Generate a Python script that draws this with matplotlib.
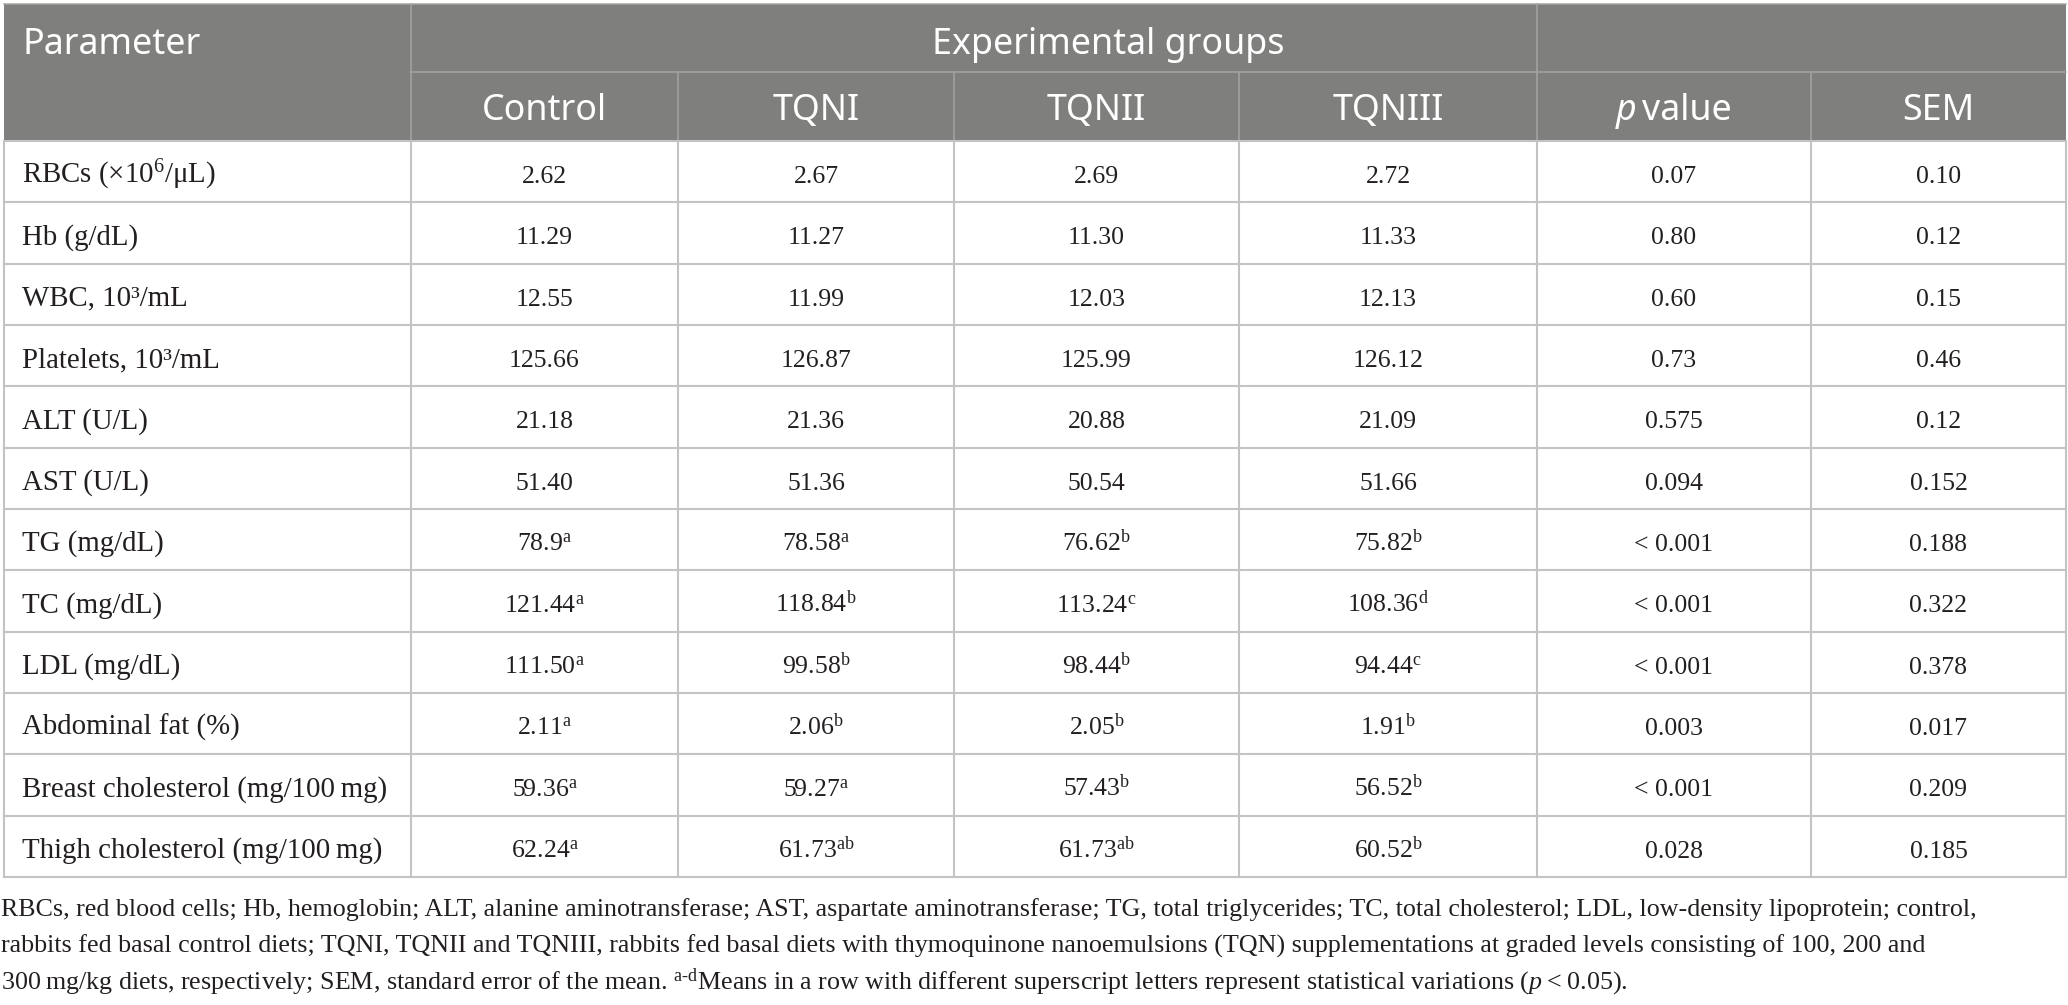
import matplotlib.pyplot as plt
from matplotlib.patches import Rectangle

plt.rcParams['mathtext.fontset'] = 'custom'
plt.rcParams['mathtext.rm'] = 'Liberation Serif'
plt.rcParams['mathtext.it'] = 'Liberation Serif:italic'

# === TABLE DATA ===
parameters = [
    "RBCs (\u00d710$^{6}$/\u03bcL)", "Hb (g/dL)", "WBC, 10\u00b3/mL", "Platelets, 10\u00b3/mL",
    "ALT (U/L)", "AST (U/L)", "TG (mg/dL)", "TC (mg/dL)", "LDL (mg/dL)",
    "Abdominal fat (%)", "Breast cholesterol (mg/100\u2009mg)", "Thigh cholesterol (mg/100\u2009mg)",
]
group_names = ["Control", "TQNI", "TQNII", "TQNIII"]
control = ["2.62", "11.29", "12.55", "125.66", "21.18", "51.40", "78.9", "121.44", "111.50", "2.11", "59.36", "62.24"]
control_sup = ["", "", "", "", "", "", "a", "a", "a", "a", "a", "a"]
tqn1 = ["2.67", "11.27", "11.99", "126.87", "21.36", "51.36", "78.58", "118.84", "99.58", "2.06", "59.27", "61.73"]
tqn1_sup = ["", "", "", "", "", "", "a", "b", "b", "b", "a", "ab"]
tqn2 = ["2.69", "11.30", "12.03", "125.99", "20.88", "50.54", "76.62", "113.24", "98.44", "2.05", "57.43", "61.73"]
tqn2_sup = ["", "", "", "", "", "", "b", "c", "b", "b", "b", "ab"]
tqn3 = ["2.72", "11.33", "12.13", "126.12", "21.09", "51.66", "75.82", "108.36", "94.44", "1.91", "56.52", "60.52"]
tqn3_sup = ["", "", "", "", "", "", "b", "d", "c", "b", "b", "b"]
p_value = ["0.07", "0.80", "0.60", "0.73", "0.575", "0.094", "< 0.001", "< 0.001", "< 0.001", "0.003", "< 0.001", "0.028"]
sem = ["0.10", "0.12", "0.15", "0.46", "0.12", "0.152", "0.188", "0.322", "0.378", "0.017", "0.209", "0.185"]

footnote = [
    "RBCs, red blood cells; Hb, hemoglobin; ALT, alanine aminotransferase; AST, aspartate aminotransferase; "
    "TG, total triglycerides; TC, total cholesterol; LDL, low-density lipoprotein; control,",
    "rabbits fed basal control diets; TQNI, TQNII and TQNIII, rabbits fed basal diets with thymoquinone "
    "nanoemulsions (TQN) supplementations at graded levels consisting of 100, 200 and",
    "300\u2009mg/kg diets, respectively; SEM, standard error of the mean. $^{\\mathrm{a}\\text{-}\\mathrm{d}}$Means "
    "in a row with different superscript letters represent statistical variations ($p$\u2009<\u20090.05).",
]

# === LAYOUT (pixels) ===
W, H = 2068, 1005
col_edges = [4, 411, 678, 954, 1239, 1537, 1811, 2066]
top, mid, head_bot, bot = 4, 72, 141, 877
n_rows = len(parameters)
row_h = (bot - head_bot) / n_rows

head_bg = '#7f807e'
head_line = '#a4a5a3'
body_line = '#c3c3c3'
ink = '#231f20'
serif = ['Liberation Serif', 'DejaVu Serif']
sans = ['Noto Sans', 'DejaVu Sans']
label_fs = 20.8
value_fs = 18.5
foot_fs = 18.7
head_fs = 25.8

fig = plt.figure(figsize=(W / 100, H / 100), dpi=100)
ax = fig.add_axes([0, 0, 1, 1])
ax.set_xlim(0, W)
ax.set_ylim(H, 0)
ax.axis('off')

# header block
ax.add_patch(Rectangle((col_edges[0], top), col_edges[-1] - col_edges[0], head_bot - top,
                       facecolor=head_bg, edgecolor='none'))
hl = dict(color=head_line, lw=1.1)
ax.plot([col_edges[0], col_edges[-1]], [top, top], **hl)
ax.plot([col_edges[1], col_edges[-1]], [mid, mid], **hl)
for x in (col_edges[1], col_edges[5]):
    ax.plot([x, x], [top, head_bot], **hl)
for x in (col_edges[2], col_edges[3], col_edges[4], col_edges[6]):
    ax.plot([x, x], [mid, head_bot], **hl)

# body grid
bl = dict(color=body_line, lw=1.5)
for i in range(n_rows + 1):
    y = head_bot + i * row_h
    ax.plot([col_edges[0], col_edges[-1]], [y, y], **bl)
for x in col_edges:
    ax.plot([x, x], [head_bot, bot], **bl)

# header text
ax.text(22, 45, "Parameter", family=sans, fontsize=head_fs, color='white', ha='left', va='center')
ax.text(1108, 45, "Experimental groups", family=sans, fontsize=head_fs, color='white', ha='center', va='center')
centers = [(col_edges[i] + col_edges[i + 1]) / 2 for i in range(len(col_edges) - 1)]
for name, cx in zip(group_names + [None, "SEM"], centers[1:]):
    if name:
        ax.text(cx, 111, name, family=sans, fontsize=head_fs, color='white', ha='center', va='center')

# "p value" header: italic p + upright text, centred together
renderer = fig.canvas.get_renderer()
t_p = ax.text(0, 111, "p", family=sans, style='italic', fontsize=head_fs, color='white', ha='left', va='center')
t_v = ax.text(0, 111, "\u2009value", family=sans, fontsize=head_fs, color='white', ha='left', va='center')
wp = t_p.get_window_extent(renderer).width
wv = t_v.get_window_extent(renderer).width
x0 = centers[5] - (wp + wv) / 2
t_p.set_x(x0)
t_v.set_x(x0 + wp)


def with_sup(val, sup):
    return val + (f"$^{{\\mathrm{{{sup}}}}}$" if sup else "")


columns = [
    (control, control_sup), (tqn1, tqn1_sup), (tqn2, tqn2_sup), (tqn3, tqn3_sup),
    (p_value, [""] * n_rows), (sem, [""] * n_rows),
]
for i in range(n_rows):
    yb = head_bot + i * row_h + 42
    ax.text(22, yb, parameters[i], family=serif, fontsize=label_fs, color=ink, ha='left', va='baseline')
    for (vals, sups), cx in zip(columns, centers[1:]):
        ax.text(cx, yb, with_sup(vals[i], sups[i]), family=serif, fontsize=value_fs,
                color=ink, ha='center', va='baseline')

# footnote
for k, line in enumerate(footnote):
    ax.text(1, 916 + k * 36.5, line, family=serif, fontsize=foot_fs, color=ink, ha='left', va='baseline')

fig.savefig('out.png', dpi=100, facecolor='white')
